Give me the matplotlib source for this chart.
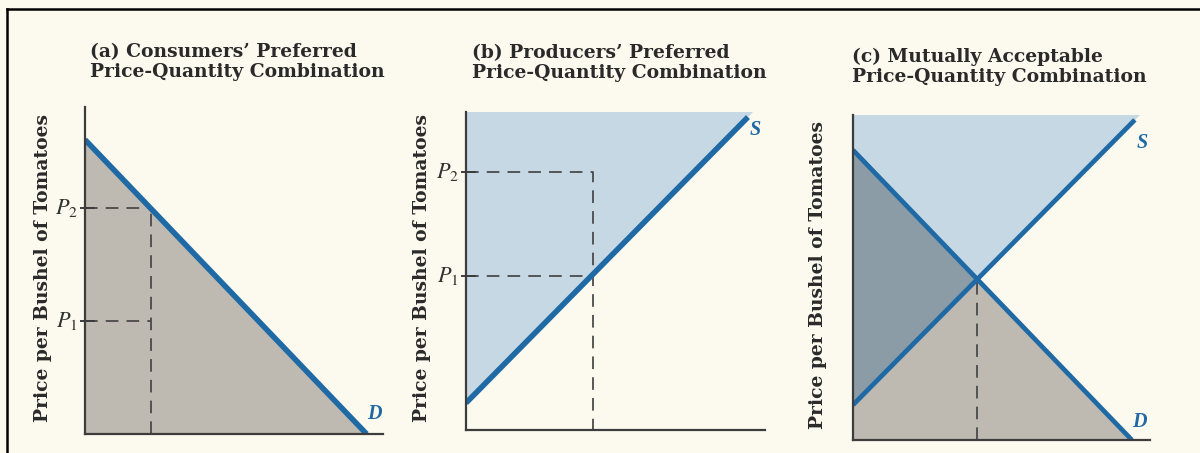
import matplotlib
matplotlib.use("Agg")
import matplotlib.pyplot as plt
from matplotlib.lines import Line2D

# figure size in pixels
W, H = 1200, 453

# panel titles and axis label
titles = ["(a) Consumers\u2019 Preferred\nPrice-Quantity Combination",
          "(b) Producers\u2019 Preferred\nPrice-Quantity Combination",
          "(c) Mutually Acceptable\nPrice-Quantity Combination"]
ylabel = "Price per Bushel of Tomatoes"

# panel (a): demand line, quantity and the two prices
demand_a_x = [0.0, 9.45]
demand_a_y = [9.0, 0.0]
q_a = 2.2
p1_a = 3.46
p2_a = 6.9

# panel (b): supply line, quantity and the two prices
supply_b_x = [0.0, 9.43]
supply_b_y = [0.85, 9.84]
q_b = 4.25
p1_b = 4.85
p2_b = 8.11

# panel (c): supply and demand, equilibrium
supply_c_x = [0.0, 9.49]
supply_c_y = [1.08, 9.85]
demand_c_x = [0.0, 9.39]
demand_c_y = [8.92, 0.0]
eq_c = (4.18, 4.93)

BG = "#fcf9ef"
BLUE = "#1f6aa5"
GRAY_FILL = "#bfbab1"
BLUE_FILL = "#c6d8e3"
DARK_FILL = "#8c9ca6"
AXCOL = "#3c3c3c"
DASH = "#4a4a4a"
TXT = "#2a2a2a"

plt.rcParams["mathtext.fontset"] = "stix"

fig = plt.figure(figsize=(W / 100, H / 100), dpi=100, facecolor=BG)


def add_panel(x0, x1, ytop, ybot):
    ax = fig.add_axes([x0 / W, (H - ybot) / H, (x1 - x0) / W, (ybot - ytop) / H])
    ax.set_xlim(0, 10)
    ax.set_ylim(0, 10)
    ax.patch.set_alpha(0)
    for s in ["top", "right"]:
        ax.spines[s].set_visible(False)
    for s in ["left", "bottom"]:
        ax.spines[s].set_color(AXCOL)
        ax.spines[s].set_linewidth(1.6)
        ax.spines[s].set_zorder(4)
    ax.set_xticks([])
    ax.set_yticks([])
    return ax


def price_tick(ax, p, label):
    ax.plot([-0.12, 0.3], [p, p], color=AXCOL, lw=1.4, clip_on=False, zorder=5)
    ax.text(-0.62, p, label, ha="center", va="center", fontsize=16,
            color="#333333", clip_on=False)


def dashed(ax, xs, ys):
    ax.plot(xs, ys, color=DASH, lw=1.3, dashes=(7, 4.5), zorder=2)


def curve_label(ax, x, y, txt):
    ax.text(x, y, txt, ha="center", va="center", fontsize=14.5, color=BLUE,
            family="Liberation Serif", style="italic", fontweight="bold")


def x_at(xs, ys, y):
    return xs[0] + (xs[1] - xs[0]) * (y - ys[0]) / (ys[1] - ys[0])


# ---- panel (a)
ax = add_panel(85, 383, 107, 434)
ax.fill([0, 0, demand_a_x[1]], [0, demand_a_y[0], 0], color=GRAY_FILL, lw=0, zorder=1)
ax.plot(demand_a_x, demand_a_y, color=BLUE, lw=4, solid_capstyle="butt", zorder=3)
dashed(ax, [0, q_a], [p2_a, p2_a])
dashed(ax, [0, q_a], [p1_a, p1_a])
dashed(ax, [q_a, q_a], [0, p2_a])
price_tick(ax, p2_a, r"$P_2$")
price_tick(ax, p1_a, r"$P_1$")
curve_label(ax, 9.7, 0.6, "D")

# ---- panel (b)
ax = add_panel(466, 765, 112, 430)
xt = x_at(supply_b_x, supply_b_y, 10)
ax.fill([0, 0, xt], [supply_b_y[0], 10, 10], color=BLUE_FILL, lw=0, zorder=1)
ax.plot(supply_b_x, supply_b_y, color=BLUE, lw=4, solid_capstyle="butt", zorder=3)
dashed(ax, [0, q_b, q_b], [p2_b, p2_b, 0])
dashed(ax, [0, q_b], [p1_b, p1_b])
price_tick(ax, p2_b, r"$P_2$")
price_tick(ax, p1_b, r"$P_1$")
curve_label(ax, 9.67, 9.43, "S")

# ---- panel (c)
ax = add_panel(853, 1150, 115, 440)
xt = x_at(supply_c_x, supply_c_y, 10)
ax.fill([0, 0, xt], [supply_c_y[0], 10, 10], color=BLUE_FILL, lw=0, zorder=1)
ax.fill([0, 0, demand_c_x[1]], [0, demand_c_y[0], 0], color=GRAY_FILL, lw=0, zorder=1)
ax.fill([0, 0, eq_c[0]], [supply_c_y[0], demand_c_y[0], eq_c[1]], color=DARK_FILL,
        lw=0, zorder=1.5)
ax.plot(supply_c_x, supply_c_y, color=BLUE, lw=3.4, solid_capstyle="butt", zorder=3)
ax.plot(demand_c_x, demand_c_y, color=BLUE, lw=3.4, solid_capstyle="butt", zorder=3)
dashed(ax, [eq_c[0], eq_c[0]], [0, eq_c[1]])
curve_label(ax, 9.73, 9.14, "S")
curve_label(ax, 9.63, 0.55, "D")

# ---- titles and y labels
title_pos = [(90, 62), (472, 63), (852, 67)]
ylab_x = [43, 422, 818]
ylab_y = [268, 268, 275]
for t, (tx, ty), lx, ly in zip(titles, title_pos, ylab_x, ylab_y):
    fig.text(tx / W, 1 - ty / H, t, ha="left", va="center", fontsize=13.5,
             family="DejaVu Serif", fontweight="bold", color=TXT,
             linespacing=1.1)
    fig.text(lx / W, 1 - ly / H, ylabel, ha="center", va="center", rotation=90,
             fontsize=13.5, family="DejaVu Serif", fontweight="bold", color=TXT)

# frame lines at the top and left edge
fig.add_artist(Line2D([7 / W, 1], [1 - 9 / H, 1 - 9 / H], color="black", lw=1.8))
fig.add_artist(Line2D([7 / W, 7 / W], [0, 1 - 9 / H], color="black", lw=1.8))

fig.savefig("out.png", dpi=100, facecolor=BG)
